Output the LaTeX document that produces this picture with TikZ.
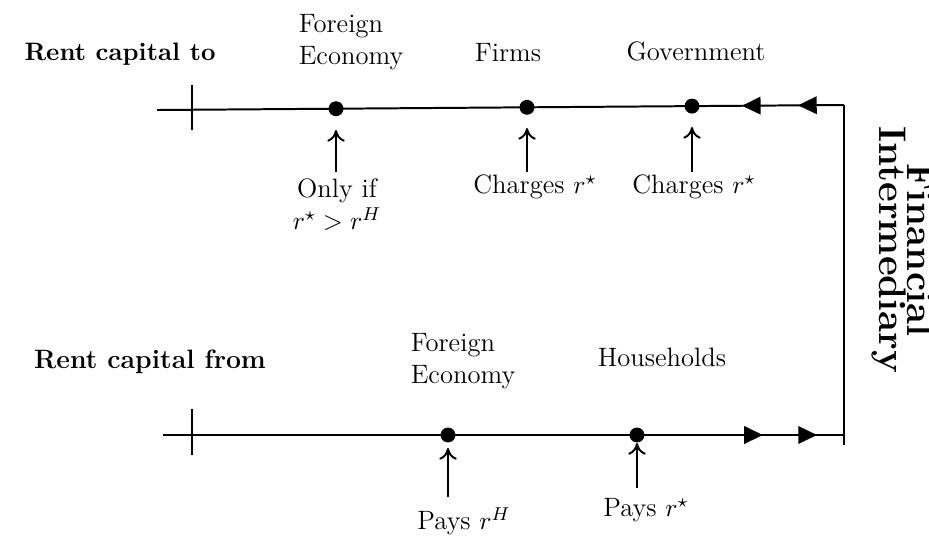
\documentclass[tikz,border=0pt]{standalone}
\usetikzlibrary{arrows.meta,decorations.markings}
\begin{document}
\begin{tikzpicture}[x=0.01508cm,y=-0.01508cm,
  ln/.style={line width=0.85pt},
  dotnode/.style={circle,fill=black,inner sep=0pt,minimum size=0.225cm},
  uparr/.style={line width=0.85pt,-{To[length=5pt,width=7.5pt]}},
  lab/.style={inner sep=0pt,align=center,font=\fontsize{11.4}{13.7}\selectfont},
  blab/.style={lab,font=\fontsize{11.4}{13.7}\selectfont\bfseries}
]
\useasboundingbox (0,0) rectangle (929,535);
% main lines
\coordinate (tl) at (157,110);
\coordinate (tr) at (844,105);
\coordinate (bl) at (163,435);
\coordinate (br) at (844,435);
\coordinate (vb) at (844,445);
\coordinate (tt1) at (192,85);
\coordinate (tt2) at (192,130);
\coordinate (bt1) at (192,409);
\coordinate (bt2) at (192,455);
\draw[ln,postaction={decorate},decoration={markings,
  mark=at position 19.7pt with {\arrow{Triangle[length=8pt,width=7.5pt]}},
  mark=at position 43.8pt with {\arrow{Triangle[length=8pt,width=7.5pt]}}}]
  (tr) -- (tl);
\draw[ln,postaction={decorate},decoration={markings,
  mark=at position -11.6pt with {\arrow{Triangle[length=8pt,width=7.5pt]}},
  mark=at position -34.8pt with {\arrow{Triangle[length=8pt,width=7.5pt]}}}]
  (bl) -- (br);
\draw[ln] (tr) -- (vb);
\draw[ln] (tt1) -- (tt2);
\draw[ln] (bt1) -- (bt2);
% dots
\node[dotnode] (d1) at (336,108.7) {};
\node[dotnode] (d2) at (527,107.3) {};
\node[dotnode] (d3) at (692,106.1) {};
\node[dotnode] (d4) at (448,435) {};
\node[dotnode] (d5) at (637,435) {};
% top labels
\node[blab,font=\fontsize{10.8}{13}\selectfont\bfseries] (rto) at (120,54) {Rent capital to};
\node[lab,align=left] (fe1) at (351,42) {Foreign\\Economy};
\node[lab] (firms) at (508,53) {Firms};
\node[lab] (gov) at (696,51) {Government};
% below-top labels
\node[lab] (c1) at (337,205) {Only if\\$r^\star>r^H$};
\node[lab] (c2) at (535,187) {Charges $r^\star$};
\node[lab] (c3) at (694,187) {Charges $r^\star$};
\coordinate (a1s) at (336,172); \coordinate (a1e) at (336,130);
\coordinate (a2s) at (527,172); \coordinate (a2e) at (527,128);
\coordinate (a3s) at (692,172); \coordinate (a3e) at (692,127);
\draw[uparr] (a1s) -- (a1e);
\draw[uparr] (a2s) -- (a2e);
\draw[uparr] (a3s) -- (a3e);
% bottom labels
\node[blab] (rfrom) at (150,362) {Rent capital from};
\node[lab,align=left] (fe2) at (463,361) {Foreign\\Economy};
\node[lab] (hh) at (662,357) {Households};
\node[lab] (p1) at (464,521) {Pays $r^H$};
\node[lab] (p2) at (646,510) {Pays $r^\star$};
\coordinate (b1s) at (448,497); \coordinate (b1e) at (448,448);
\coordinate (b2s) at (637,488); \coordinate (b2e) at (637,443);
\draw[uparr] (b1s) -- (b1e);
\draw[uparr] (b2s) -- (b2e);
% financial intermediary
\node[lab,rotate=-90,font=\fontsize{16.5}{11.6}\selectfont\bfseries] (fi) at (903,250) {Financial\\Intermediary};
\end{tikzpicture}
\end{document}
